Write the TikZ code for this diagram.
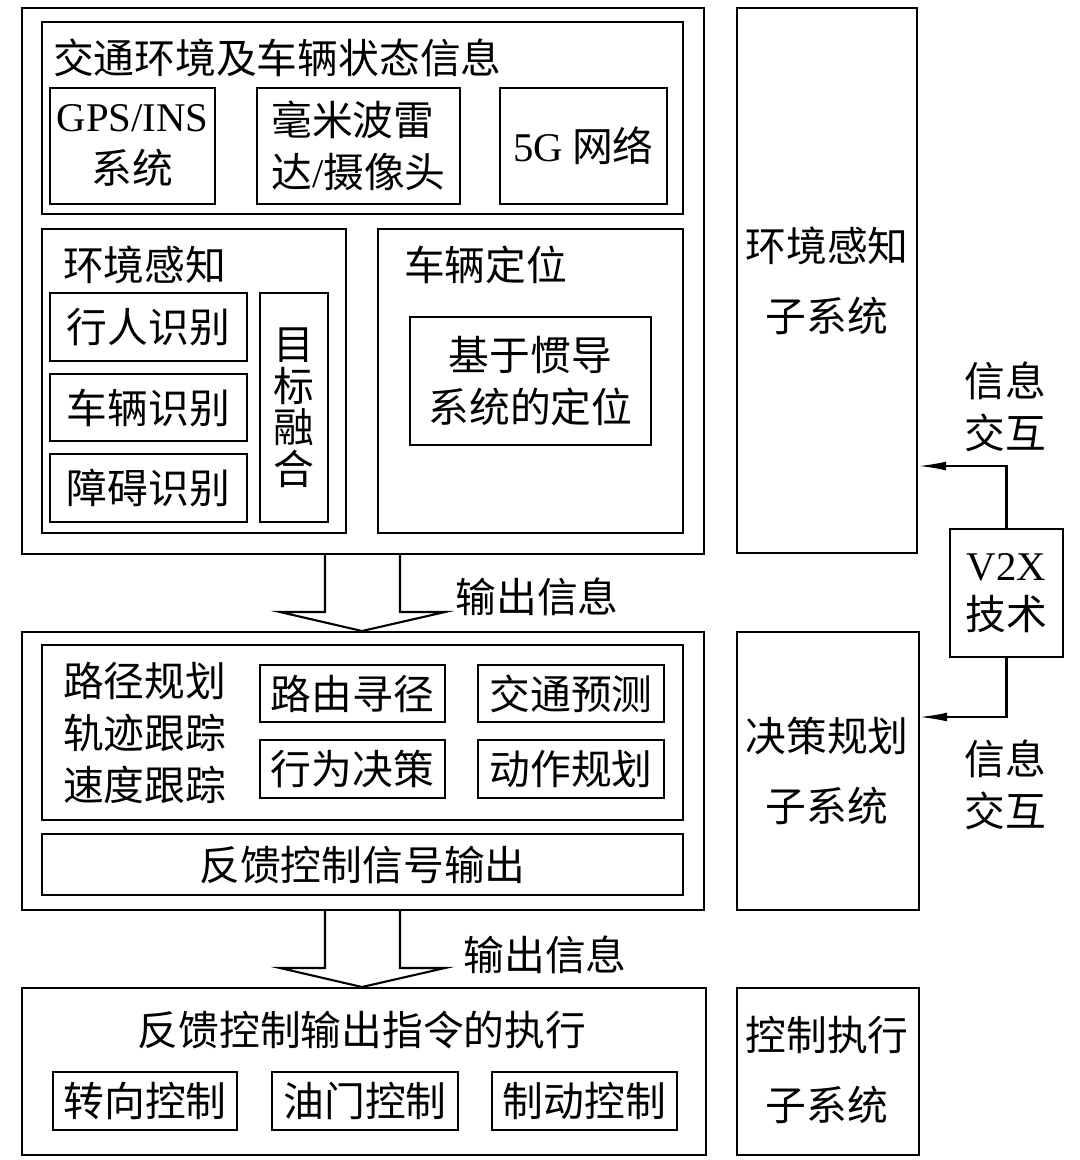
\documentclass[tikz,border=0pt]{standalone}
\usepackage{fontspec}
\setmainfont{Noto Sans CJK SC}
\newfontfamily\latin{Liberation Serif}
\usepackage{tikz}
\usetikzlibrary{positioning,arrows.meta,fit}
\tikzset{>=Latex}

\begin{document}
\begin{tikzpicture}[
  x=0.025cm, y=-0.025cm,
  line width=1.5pt
]

% 样式。
\tikzset{
  box/.style={rectangle, draw, inner sep=0pt},
  txt/.style={font=\fontsize{29}{37}\selectfont, align=center, inner sep=0pt},
  sub/.style={txt, font=\fontsize{29}{50}\selectfont},
  tag/.style={txt, anchor=west},
  link/.style={->, >={Latex[length=7mm,width=2.2mm]}}
}

\useasboundingbox (0,0) rectangle (1080,1160);

% 环境感知部分。
\node (sense) [box, fit={(22,8) (704,554)}] {};
\node (info)  [box, fit={(42,22) (683,214)}] {};
\node (radar) [box, fit={(257,88) (460,204)}] {};
\node (gps)   [box, fit={(50,88) (215,204)}] {};
\node (net)   [box, fit={(500,88) (667,204)}] {};
\node (infot) [tag] at (52,58) {交通环境及车辆状态信息};
\node (gpst)  [txt] at (gps) {{\latin GPS/INS}\\系统};
\node (radart)[txt, align=left] at (radar) {毫米波雷\\达{\latin /}摄像头};
\node (nett)  [txt] at (net) {{\latin 5G} 网络};

\node (env)   [box, fit={(42,229) (346,533)}] {};
\node (ped)   [box, fit={(50,293) (247,361)}] {};
\node (car)   [box, fit={(50,374) (247,441)}] {};
\node (obs)   [box, fit={(50,454) (247,522)}] {};
\node (fuse)  [box, fit={(260,293) (328,522)}] {};
\node (envt)  [tag] at (62,265) {环境感知};
\node (pedt)  [txt] at (ped) {行人识别};
\node (cart)  [txt] at (car) {车辆识别};
\node (obst)  [txt] at (obs) {障碍识别};
\node (fuset) [txt, font=\fontsize{29}{29.5}\selectfont] at (fuse) {目\\标\\融\\合};

\node (loc)   [box, fit={(378,229) (683,533)}] {};
\node (ins)   [box, fit={(410,317) (651,445)}] {};
\node (loct)  [tag] at (403,265) {车辆定位};
\node (inst)  [txt] at (ins) {基于惯导\\系统的定位};

% 决策规划部分。
\node (plan)  [box, fit={(22,632) (704,910)}] {};
\node (route) [box, fit={(42,645) (683,820)}] {};
\node (path)  [box, fit={(260,665) (445,722)}] {};
\node (pred)  [box, fit={(478,665) (664,722)}] {};
\node (act)   [box, fit={(260,740) (445,798)}] {};
\node (move)  [box, fit={(478,740) (664,798)}] {};
\node (fb)    [box, fit={(42,834) (683,895)}] {};
\node (routet)[txt, align=left, anchor=west] at (62,733) {路径规划\\轨迹跟踪\\速度跟踪};
\node (patht) [txt] at (path) {路由寻径};
\node (predt) [txt] at (pred) {交通预测};
\node (actt)  [txt] at (act) {行为决策};
\node (movet) [txt] at (move) {动作规划};
\node (fbt)   [txt] at (fb) {反馈控制信号输出};

% 控制执行部分。
\node (exec)  [box, fit={(22,988) (706,1155)}] {};
\node (steer) [box, fit={(53,1072) (237,1130)}] {};
\node (gas)   [box, fit={(272,1072) (458,1130)}] {};
\node (brake) [box, fit={(492,1072) (677,1130)}] {};
\node (exect) [txt] at (362,1030) {反馈控制输出指令的执行};
\node (steert)[txt] at (steer) {转向控制};
\node (gast)  [txt] at (gas) {油门控制};
\node (braket)[txt] at (brake) {制动控制};

% 右侧子系统。
\node (s1)  [box, fit={(737,8) (917,553)}] {};
\node (s2)  [box, fit={(737,632) (919,910)}] {};
\node (s3)  [box, fit={(737,988) (919,1155)}] {};
\node (v2x) [box, fit={(950,529) (1063,657)}] {};
\node (s1t) [sub] at (827,281) {环境感知\\子系统};
\node (s2t) [sub] at (827,771) {决策规划\\子系统};
\node (s3t) [sub] at (827,1070) {控制执行\\子系统};
\node (v2xt)[txt, font=\fontsize{29}{35}\selectfont] at (v2x) {{\latin V2X}\\技术};
\node (ia)  [txt] at (1005,407) {信息\\交互};
\node (ib)  [txt] at (1005,785) {信息\\交互};

% V2X 连线。
\coordinate (hitA) at (918,466);
\coordinate (hitB) at (919,717);
\draw[link] (v2x.north) |- (hitA);
\draw[link] (v2x.south) |- (hitB);

% 空心箭头与输出信息。
\draw (325,554) -- (325,612) -- (280,612) -- (362,631) -- (445,612) -- (400,612) -- (400,554);
\draw (325,910) -- (325,968) -- (280,968) -- (362,987) -- (445,968) -- (400,968) -- (400,910);
\node (outA) [txt] at (537,597) {输出信息};
\node (outB) [txt] at (545,955) {输出信息};
\end{tikzpicture}
\end{document}
